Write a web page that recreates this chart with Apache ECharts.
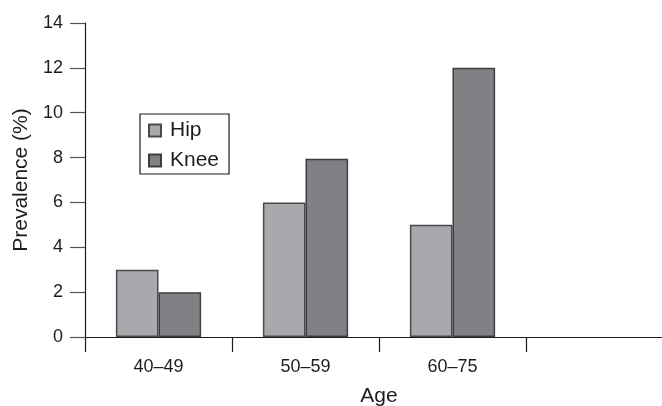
<!DOCTYPE html>
<html>
<head>
<meta charset="utf-8">
<script src="https://cdn.jsdelivr.net/npm/echarts@6/dist/echarts.min.js"></script>
<style>
html,body{margin:0;padding:0;background:#fff;}
#c{width:662px;height:406px;}
</style>
</head>
<body>
<div id="c"></div>
<script>
const categories = ['40–49', '50–59', '60–75', ''];
const hipValues = [3, 6, 5, null];
const kneeValues = [2, 7.95, 12, null];
const yTicks = { min: 0, max: 14, interval: 2 };

const chart = echarts.init(document.getElementById('c'), null, { renderer: 'canvas' });
const font = 'Liberation Sans, Arial, Helvetica, sans-serif';
const ink = '#1f1c1d';
chart.setOption({
  animation: false,
  backgroundColor: '#fff',
  textStyle: { fontFamily: font, color: ink },
  grid: { left: 85, top: 23, width: 588, height: 314, containLabel: false, outerBoundsMode: 'none' },
  legend: {
    orient: 'vertical',
    left: 140, top: 114,
    data: ['Hip', 'Knee'],
    itemWidth: 12, itemHeight: 12, itemGap: 9,
    padding: [6, 10, 3, 8],
    borderColor: ink, borderWidth: 1.2,
    textStyle: { fontSize: 21, fontFamily: font, color: ink, padding: [0, 0, 0, 4] },
    icon: 'rect'
  },
  xAxis: {
    type: 'category',
    data: categories,
    boundaryGap: true,
    name: 'Age',
    nameLocation: 'middle',
    nameGap: 49,
    nameTextStyle: { fontSize: 21, color: ink, fontFamily: font },
    axisLine: { show: true, lineStyle: { color: ink, width: 1.2 } },
    axisTick: { show: true, length: 15, alignWithLabel: false, lineStyle: { color: ink, width: 1.2 } },
    axisLabel: { fontSize: 18, color: ink, margin: 21, fontFamily: font },
    splitLine: { show: false }
  },
  yAxis: {
    type: 'value',
    min: yTicks.min, max: yTicks.max, interval: yTicks.interval,
    name: 'Prevalence (%)',
    nameLocation: 'middle',
    nameGap: 46,
    nameTextStyle: { fontSize: 21, color: ink, fontFamily: font },
    axisLine: { show: true, lineStyle: { color: ink, width: 1.2 } },
    axisTick: { show: true, length: 15, lineStyle: { color: '#555', width: 1.2 } },
    axisLabel: { fontSize: 18, color: ink, margin: 22, fontFamily: font },
    splitLine: { show: false }
  },
  series: [
    {
      name: 'Hip', type: 'bar', data: hipValues,
      barGap: '0%', barCategoryGap: '42%',
      itemStyle: { color: '#a8a9ac', borderColor: '#4a4a4c', borderWidth: 1.5 }
    },
    {
      name: 'Knee', type: 'bar', data: kneeValues,
      barGap: '0%', barCategoryGap: '42%',
      itemStyle: { color: '#808184', borderColor: '#3e3e40', borderWidth: 1.5 }
    }
  ]
});
</script>
</body>
</html>
